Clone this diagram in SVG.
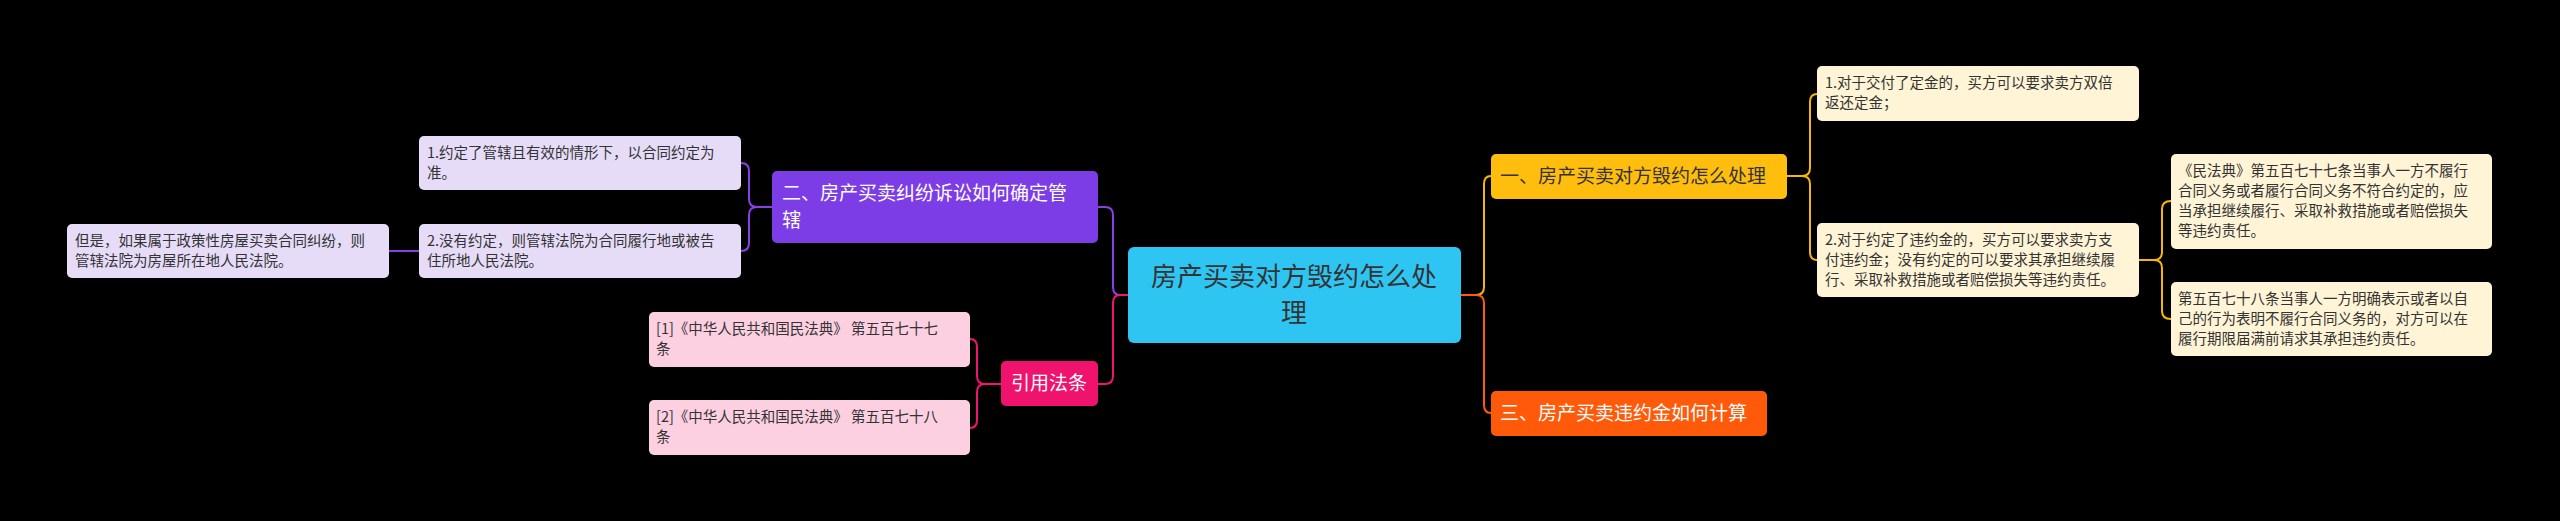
<svg xmlns="http://www.w3.org/2000/svg" width="2560" height="521" viewBox="0 0 2560 521">
<style>
text{font-family:"Noto Sans CJK SC","Noto Sans",sans-serif}
.leaf{font-size:14.5px;fill:#333}
.mid{font-size:19px}
.c{fill:none;stroke-width:2}
</style>
<rect width="2560" height="521" fill="#000"/>
<g id="connectors">
<path class="c" stroke="#8a3fe6" d="M1128 295H1120Q1113 295 1113 287V215Q1113 207 1105 207H1098"/>
<path class="c" stroke="#f0156f" d="M1128 295H1120Q1113 295 1113 303V376Q1113 384 1105 384H1098"/>
<path class="c" stroke="#f5b800" d="M1461 295H1476Q1484 295 1484 287V184Q1484 176 1491 176"/>
<path class="c" stroke="#ff5a0a" d="M1461 295H1476Q1484 295 1484 303V405Q1484 413 1491 413"/>
<path class="c" stroke="#8a3fe6" d="M772 207H757Q749 207 749 199V171Q749 163 741 163"/>
<path class="c" stroke="#8a3fe6" d="M772 207H757Q749 207 749 215V243Q749 251 741 251"/>
<path class="c" stroke="#8a3fe6" d="M419 251H389"/>
<path class="c" stroke="#f0156f" d="M1001 384H985Q977 384 977 376V347Q977 339 970 339"/>
<path class="c" stroke="#f0156f" d="M1001 384H985Q977 384 977 392V420Q977 428 970 428"/>
<path class="c" stroke="#f5b800" d="M1787 176H1802Q1810 176 1810 168V102Q1810 94 1817 94"/>
<path class="c" stroke="#f5b800" d="M1787 176H1802Q1810 176 1810 184V252Q1810 260 1817 260"/>
<path class="c" stroke="#f5b800" d="M2139 260H2154Q2162 260 2162 252V209Q2162 201 2171 201"/>
<path class="c" stroke="#f5b800" d="M2139 260H2154Q2162 260 2162 268V311Q2162 319 2171 319"/>
</g>
<g id="root"><rect x="1128" y="247" width="333" height="96" rx="6" fill="#2fc5f2"/>
<text x="1294" y="286" font-size="26" fill="#333" text-anchor="middle">房产买卖对方毁约怎么处</text>
<text x="1294" y="322" font-size="26" fill="#333" text-anchor="middle">理</text></g>
<g id="n1"><rect x="1491" y="154" width="296" height="45" rx="5" fill="#ffbd0d"/>
<text x="1500" y="183" class="mid" fill="#333">一、房产买卖对方毁约怎么处理</text></g>
<g id="n3"><rect x="1491" y="391" width="276" height="45" rx="5" fill="#ff5a0a"/>
<text x="1500" y="420" class="mid" fill="#fff">三、房产买卖违约金如何计算</text></g>
<g id="n2"><rect x="772" y="171" width="326" height="72" rx="5" fill="#7d3de6"/>
<text x="782" y="200" class="mid" fill="#fff">二、房产买卖纠纷诉讼如何确定管</text>
<text x="782" y="227" class="mid" fill="#fff">辖</text></g>
<g id="cite"><rect x="1001" y="361" width="97" height="45" rx="5" fill="#f0136e"/>
<text x="1049" y="390" class="mid" fill="#fff" text-anchor="middle">引用法条</text></g>
<g id="l1"><rect x="419" y="136" width="322" height="54" rx="5" fill="#e6dcf8"/>
<text class="leaf" x="427" y="158">1.约定了管辖且有效的情形下，以合同约定为</text><text class="leaf" x="427" y="178">准。</text></g>
<g id="l2"><rect x="419" y="224" width="322" height="54" rx="5" fill="#e6dcf8"/>
<text class="leaf" x="427" y="246">2.没有约定，则管辖法院为合同履行地或被告</text><text class="leaf" x="427" y="266">住所地人民法院。</text></g>
<g id="l3"><rect x="67" y="224" width="322" height="54" rx="5" fill="#e6dcf8"/>
<text class="leaf" x="75" y="246">但是，如果属于政策性房屋买卖合同纠纷，则</text><text class="leaf" x="75" y="266">管辖法院为房屋所在地人民法院。</text></g>
<g id="c1"><rect x="649" y="312" width="321" height="55" rx="5" fill="#fdd0e1"/>
<text class="leaf" x="656" y="334">[1]《中华人民共和国民法典》 第五百七十七</text><text class="leaf" x="656" y="354">条</text></g>
<g id="c2"><rect x="649" y="400" width="321" height="55" rx="5" fill="#fdd0e1"/>
<text class="leaf" x="656" y="422">[2]《中华人民共和国民法典》 第五百七十八</text><text class="leaf" x="656" y="442">条</text></g>
<g id="r1"><rect x="1817" y="66" width="322" height="55" rx="5" fill="#fff4d6"/>
<text class="leaf" x="1825" y="88">1.对于交付了定金的，买方可以要求卖方双倍</text><text class="leaf" x="1825" y="108">返还定金；</text></g>
<g id="r2"><rect x="1817" y="223" width="322" height="74" rx="5" fill="#fff4d6"/>
<text class="leaf" x="1825" y="245">2.对于约定了违约金的，买方可以要求卖方支</text><text class="leaf" x="1825" y="265">付违约金；没有约定的可以要求其承担继续履</text><text class="leaf" x="1825" y="285">行、采取补救措施或者赔偿损失等违约责任。</text></g>
<g id="r3"><rect x="2171" y="154" width="321" height="95" rx="5" fill="#fff4d6"/>
<text class="leaf" x="2178" y="176">《民法典》第五百七十七条当事人一方不履行</text><text class="leaf" x="2178" y="196">合同义务或者履行合同义务不符合约定的，应</text><text class="leaf" x="2178" y="216">当承担继续履行、采取补救措施或者赔偿损失</text><text class="leaf" x="2178" y="236">等违约责任。</text></g>
<g id="r4"><rect x="2171" y="282" width="321" height="74" rx="5" fill="#fff4d6"/>
<text class="leaf" x="2178" y="304">第五百七十八条当事人一方明确表示或者以自</text><text class="leaf" x="2178" y="324">己的行为表明不履行合同义务的，对方可以在</text><text class="leaf" x="2178" y="344">履行期限届满前请求其承担违约责任。</text></g>
</svg>
